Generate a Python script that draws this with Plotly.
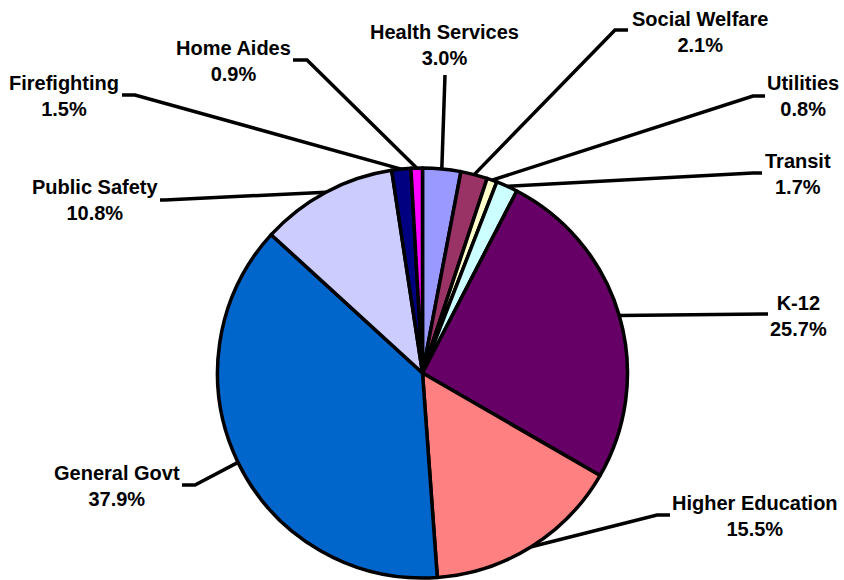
import math
import plotly.graph_objects as go

# ---- data ----
categories = ["Health Services", "Social Welfare", "Utilities", "Transit", "K-12",
              "Higher Education", "General Govt", "Public Safety", "Firefighting", "Home Aides"]
shares = [3.0, 2.1, 0.8, 1.7, 25.7, 15.5, 37.9, 10.8, 1.5, 0.9]
colors = ["#9999FF", "#993366", "#FFFFCC", "#CCFFFF", "#660066",
          "#FF8080", "#0066CC", "#CCCCFF", "#000080", "#FF00FF"]

# ---- layout (pixel positions in the 844x580 canvas) ----
W, H = 844, 580
CX, CY, R = 422.5, 373, 205
# label block centres
label_pos = [(444, 45), (700, 32), (803, 96), (798, 174), (798, 316),
             (755, 516), (117, 486), (95, 200), (64, 96), (233, 61)]
# leader line: start point near label, elbow point
leader_start = [(445, 75), (628, 30), (765, 96), (762, 173), (768, 314),
                (670, 515), (182, 485), (160, 200), (122, 95), (293, 60)]
leader_elbow = [(445, 75), (615, 30), (753, 96), (753, 173), (768, 314),
                (657, 515), (195, 485), (165, 200), (135, 95), (307, 60)]


def px(x):
    return x / W


def py(y):
    return 1 - y / H


fig = go.Figure(go.Pie(
    labels=categories,
    values=shares,
    sort=False,
    direction="clockwise",
    rotation=0,
    marker=dict(colors=colors, line=dict(color="black", width=3.5)),
    textinfo="none",
    hoverinfo="label+percent",
    domain=dict(x=[px(CX - R), px(CX + R)], y=[py(CY + R), py(CY - R)]),
    showlegend=False,
))

total = sum(shares)
cum = 0.0
shapes = []
annotations = []
for i, (name, v) in enumerate(zip(categories, shares)):
    mid = (cum + v / 2) / total * 2 * math.pi
    cum += v
    rx = CX + R * math.sin(mid)
    ry = CY - R * math.cos(mid)
    sx, sy = leader_start[i]
    ex, ey = leader_elbow[i]
    path = f"M {px(sx)} {py(sy)} L {px(ex)} {py(ey)} L {px(rx)} {py(ry)}"
    shapes.append(dict(type="path", xref="paper", yref="paper", path=path,
                       line=dict(color="black", width=3.5)))
    lx, ly = label_pos[i]
    annotations.append(dict(
        x=px(lx), y=py(ly), xref="paper", yref="paper",
        text=f"{name}<br>{v:.1f}%", showarrow=False,
        xanchor="center", yanchor="middle", align="center",
        font=dict(family="Liberation Sans, Arial, sans-serif", size=20,
                  color="black", weight="bold"),
    ))

fig.update_layout(
    width=W, height=H,
    margin=dict(l=0, r=0, t=0, b=0),
    paper_bgcolor="white",
    plot_bgcolor="white",
    shapes=shapes,
    annotations=annotations,
)

fig.write_html("out.html", config={"displayModeBar": False},
               post_script="document.body.style.margin='0';")
